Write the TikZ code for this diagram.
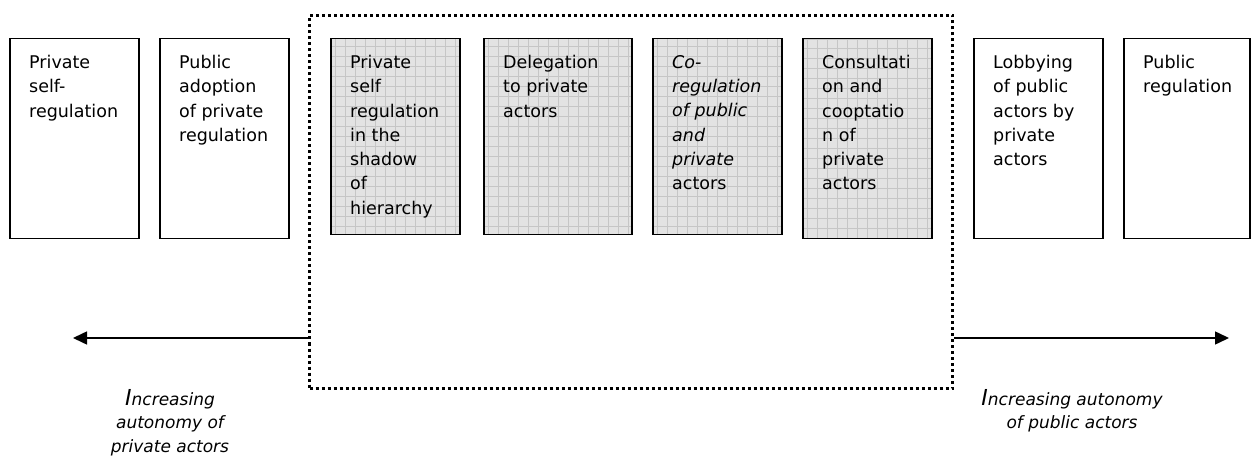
\documentclass[tikz,border=0pt]{standalone}
\usepackage{fontspec}
\setmainfont{DejaVu Sans}
\usetikzlibrary{arrows.meta,positioning}
\newcommand{\capI}{{\fontsize{22}{23}\selectfont I}}

\begin{document}
\begin{tikzpicture}[x=1pt,y=-1pt,
    box/.style={draw=black,line width=1.5pt,anchor=north west,inner sep=0pt,
      minimum width=129pt,minimum height=200pt},
    gridbox/.style={box,fill=gray!22,minimum height=196pt,
      path picture={\draw[gray!45,line width=0.5pt]
        (path picture bounding box.south west) grid[step=10pt]
        (path picture bounding box.north east);}},
    boxtext/.style={anchor=north west,align=left,inner sep=0pt,
      font=\fontsize{17.5}{24.3}\selectfont},
    zone/.style={draw=black,line width=3pt,dash pattern=on 3pt off 3pt,
      anchor=north west,inner sep=0pt,minimum width=643pt,minimum height=373pt},
    axis/.style={line width=1.5pt,-{Triangle[length=14pt,width=13pt]}},
    note/.style={anchor=north,align=center,inner sep=0pt,
      font=\itshape\fontsize{17}{23.5}\selectfont}]
    \useasboundingbox (0,0) rectangle (1251,457);

    \node[zone] (inner) at (308,14) {};

    \node[box] (selfreg) at (9,38) {};
    \node[box] (adoption) at (159,38) {};
    \node[gridbox] (shadow) at (330,38) {};
    \node[gridbox,minimum width=148pt] (delegation) at (483,38) {};
    \node[gridbox] (coreg) at (652,38) {};
    \node[gridbox,minimum height=200pt] (consult) at (802,38) {};
    \node[box] (lobby) at (973,38) {};
    \node[box,minimum width=126pt] (pubreg) at (1123,38) {};

    \node[boxtext] (selfreg-t) at ([shift={(20pt,-17pt)}]selfreg.north west)
      {Private\\self-\\regulation};
    \node[boxtext] (adoption-t) at ([shift={(20pt,-17pt)}]adoption.north west)
      {Public\\adoption\\of private\\regulation};
    \node[boxtext] (shadow-t) at ([shift={(20pt,-17pt)}]shadow.north west)
      {Private\\self\\regulation\\in the\\shadow\\of\\hierarchy};
    \node[boxtext] (delegation-t) at ([shift={(20pt,-17pt)}]delegation.north west)
      {Delegation\\to private\\actors};
    \node[boxtext] (coreg-t) at ([shift={(20pt,-17pt)}]coreg.north west)
      {\itshape Co-\\\itshape regulation\\\itshape of public\\\itshape and\\\itshape private\\actors};
    \node[boxtext] (consult-t) at ([shift={(20pt,-17pt)}]consult.north west)
      {Consultati\\on and\\cooptatio\\n of\\private\\actors};
    \node[boxtext] (lobby-t) at ([shift={(20pt,-17pt)}]lobby.north west)
      {Lobbying\\of public\\actors by\\private\\actors};
    \node[boxtext] (pubreg-t) at ([shift={(20pt,-17pt)}]pubreg.north west)
      {Public\\regulation};

    \coordinate (lefttip) at (73,338);
    \coordinate (righttip) at (1229,338);
    \draw[axis] (inner.west |- lefttip) -- (lefttip);
    \draw[axis] (inner.east |- righttip) -- (righttip);

    \node[note] (privnote) at (170,389) {\capI ncreasing\\autonomy of\\private actors};
    \node[note] (pubnote) at (1072,389) {\capI ncreasing autonomy\\of public actors};
\end{tikzpicture}
\end{document}
